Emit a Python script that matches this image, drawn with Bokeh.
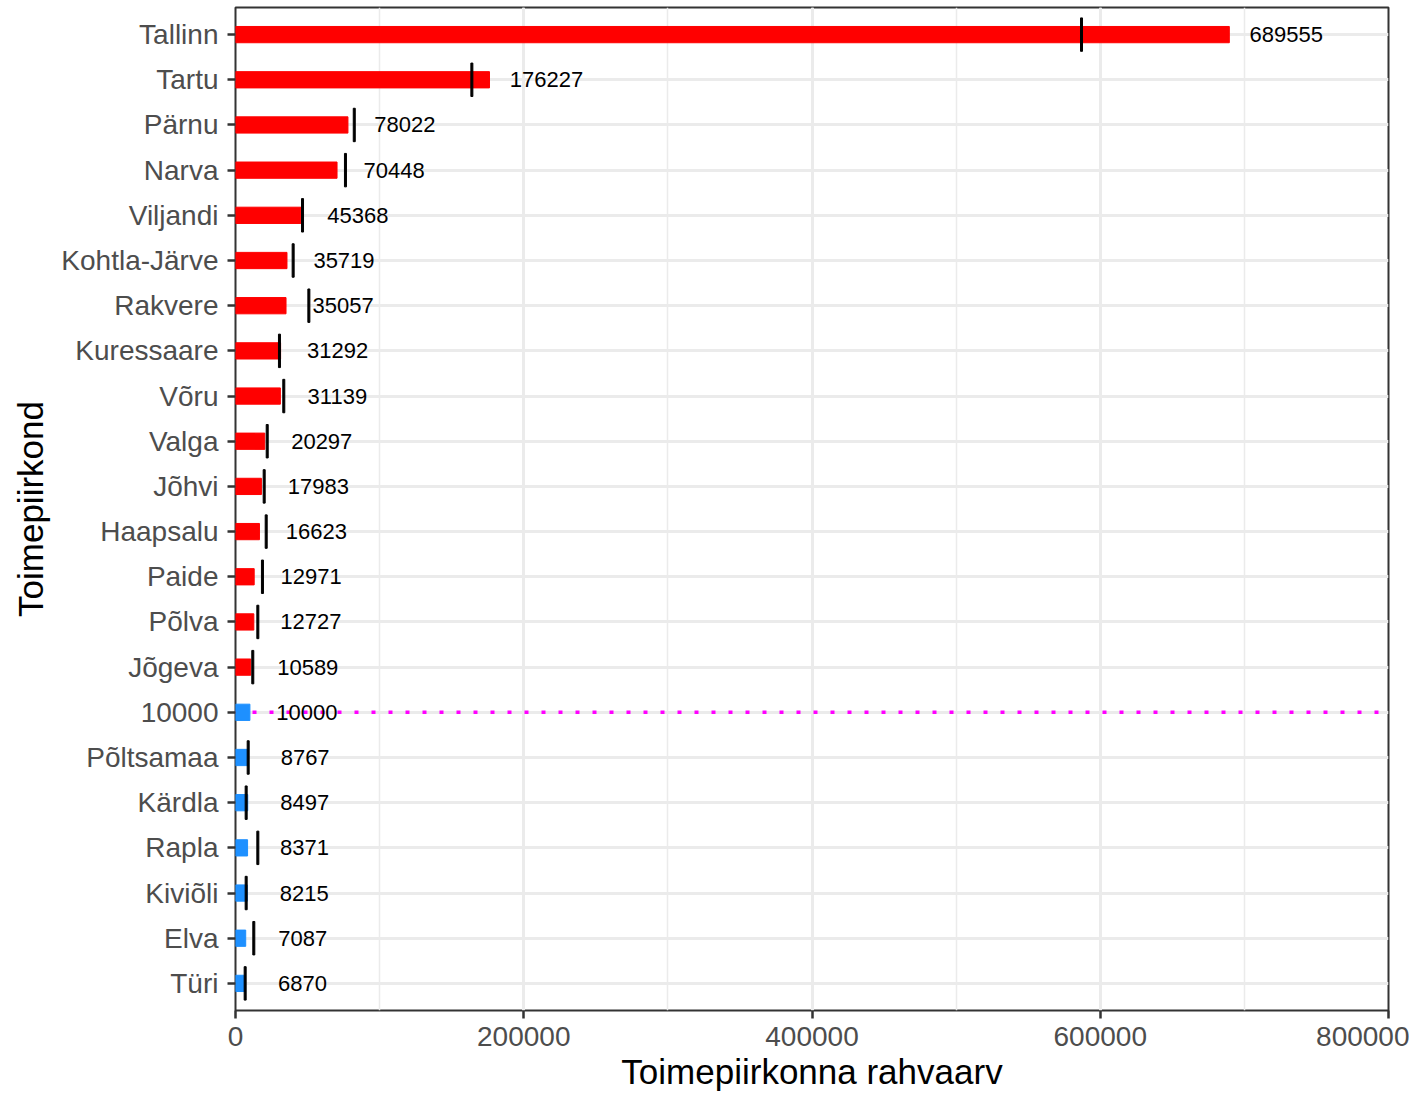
import math
from bokeh.plotting import figure
from bokeh.models import FactorRange, Range1d, SingleIntervalTicker, ColumnDataSource, NumeralTickFormatter
from bokeh.core.properties import value
from bokeh.embed import file_html
from bokeh.resources import INLINE

# ---- data ----
cities = ["Tallinn", "Tartu", "Pärnu", "Narva", "Viljandi", "Kohtla-Järve",
          "Rakvere", "Kuressaare", "Võru", "Valga", "Jõhvi", "Haapsalu",
          "Paide", "Põlva", "Jõgeva", "10000", "Põltsamaa", "Kärdla",
          "Rapla", "Kiviõli", "Elva", "Türi"]
populations = [689555, 176227, 78022, 70448, 45368, 35719,
               35057, 31292, 31139, 20297, 17983, 16623,
               12971, 12727, 10589, 10000, 8767, 8497,
               8371, 8215, 7087, 6870]
# second measure shown as black vertical marks
marks = [587000, 164000, 82400, 76300, 46500, 40000,
         50900, 30500, 33500, 22000, 19900, 21300,
         18700, 15500, 12000, float("nan"), 8800, 7400,
         15500, 7400, 12700, 6700]
threshold = 10000
threshold_label = "10000"
x_max = 800000

colors = ["#FF0000" if v > threshold else "#1E90FF" for v in populations]
labels = [str(v) for v in populations]

src = ColumnDataSource(dict(city=cities, pop=populations, mark=marks,
                            color=colors, label=labels))

FONT = "Liberation Sans"

p = figure(width=1409, height=1094, output_backend="svg", toolbar_location=None,
           y_range=FactorRange(factors=list(reversed(cities)),
                               range_padding=0.1, range_padding_units="absolute"),
           x_range=Range1d(0, x_max),
           min_border_left=235, min_border_right=21, min_border_top=7,
           min_border_bottom=84)

p.background_fill_color = "white"
p.border_fill_color = "white"
p.outline_line_color = "#333333"
p.outline_line_width = 2

# grids
p.xgrid.grid_line_color = "#EBEBEB"
p.xgrid.grid_line_width = 3
p.xgrid.minor_grid_line_color = "#EBEBEB"
p.xgrid.minor_grid_line_width = 1.5
p.ygrid.grid_line_color = "#EBEBEB"
p.ygrid.grid_line_width = 3

p.xaxis.ticker = SingleIntervalTicker(interval=200000, num_minor_ticks=2)
p.xaxis.formatter = NumeralTickFormatter(format="0")

for ax in (p.xaxis[0], p.yaxis[0]):
    ax.axis_line_color = None
    ax.major_tick_line_color = "#333333"
    ax.major_tick_line_width = 2.5
    ax.major_tick_out = 8
    ax.major_tick_in = 0
    ax.minor_tick_out = 0
    ax.minor_tick_in = 0
    ax.major_label_text_font = FONT
    ax.major_label_text_font_size = "28px"
    ax.major_label_text_color = "#4D4D4D"
    ax.axis_label_text_font = FONT
    ax.axis_label_text_font_size = "35px"
    ax.axis_label_text_font_style = "normal"
    ax.axis_label_text_color = "black"

p.xaxis.axis_label = "Toimepiirkonna rahvaarv"
p.yaxis.axis_label = "Toimepiirkond"
p.xaxis.major_label_standoff = 8
p.xaxis.axis_label_standoff = 3
p.yaxis.major_label_standoff = 9
p.yaxis.axis_label_standoff = 8

# threshold dotted line (under bars)
p.segment(x0=0, x1=x_max, y0=value(threshold_label), y1=value(threshold_label),
          line_color="#FF00FF", line_width=3.5, line_dash="4 13")

# bars
p.hbar(y="city", left=0, right="pop", height=0.36, color="color", source=src)

# black vertical marks
p.rect(x="mark", y="city", width=2, width_units="screen", height=0.74,
       color="black", source=src)

# value labels
p.text(x="pop", y="city", text="label", x_offset=57, text_align="center",
       text_baseline="middle", text_font=value(FONT), text_font_size="22px",
       text_color="black", source=src)

open("out.html", "w").write(file_html(p, INLINE))
